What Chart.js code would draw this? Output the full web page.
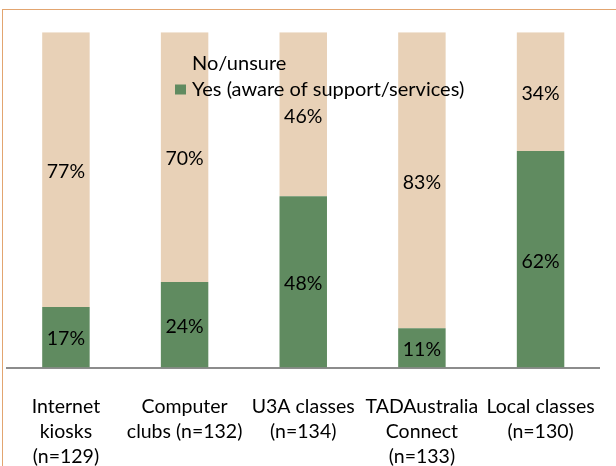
<!DOCTYPE html>
<html>
<head>
<meta charset="utf-8">
<script src="https://cdn.jsdelivr.net/npm/chart.js@4.4.0/dist/chart.umd.min.js"></script>
<style>
html, body { margin: 0; padding: 0; background: #fff; overflow: hidden; }
#wrap { position: relative; width: 616px; height: 466px; overflow: hidden; }
#frame { position: absolute; left: 2px; top: 9px; width: 700px; height: 600px; border: 1.5px solid #e2a570; }
canvas { position: absolute; left: 0; top: 0; }
</style>
</head>
<body>
<div id="wrap">
  <div id="frame"></div>
  <canvas id="chart" width="622" height="466"></canvas>
</div>
<script>
const categories = [
  ['Internet', 'kiosks', '(n=129)'],
  ['Computer', 'clubs (n=132)'],
  ['U3A classes', '(n=134)'],
  ['TADAustralia', 'Connect', '(n=133)'],
  ['Local classes', '(n=130)']
];
const yesValues = [17, 24, 48, 11, 62];
const noValues = [77, 70, 46, 83, 34];
const seriesNames = ['Yes (aware of support/services)', 'No/unsure'];
const seriesColors = ['#608b60', '#e8d1b7'];

// bars are drawn as a 100% stack (shares of yes+no), labels show the raw %
const share = (v, i) => v / (yesValues[i] + noValues[i]) * 100;

const FONT = 'Lato';

const barLabels = {
  id: 'barLabels',
  afterDatasetsDraw(chart) {
    const ctx = chart.ctx;
    ctx.save();
    ctx.font = '19.5px ' + FONT;
    ctx.fillStyle = '#000';
    ctx.textAlign = 'center';
    ctx.textBaseline = 'middle';
    chart.data.datasets.forEach((ds, di) => {
      chart.getDatasetMeta(di).data.forEach((bar, i) => {
        ctx.fillText(ds.values[i] + '%', bar.x, (bar.y + bar.base) / 2 + 2);
      });
    });
    ctx.restore();
  }
};

// legend sits inside the plot, No/unsure listed first
const inlineLegend = {
  id: 'inlineLegend',
  afterDraw(chart) {
    const ctx = chart.ctx;
    ctx.save();
    ctx.font = '20px ' + FONT;
    ctx.textBaseline = 'middle';
    const items = chart.data.datasets.slice().reverse();
    items.forEach((ds, k) => {
      const y = 63.5 + k * 26;
      ctx.fillStyle = ds.backgroundColor;
      ctx.fillRect(175, y - 5, 11, 10);
      ctx.fillStyle = '#000';
      ctx.fillText(ds.label, 192, y);
    });
    ctx.restore();
  }
};

new Chart(document.getElementById('chart'), {
  type: 'bar',
  data: {
    labels: categories,
    datasets: [
      {
        label: seriesNames[0],
        data: yesValues.map(share),
        values: yesValues,
        backgroundColor: seriesColors[0]
      },
      {
        label: seriesNames[1],
        data: noValues.map(share),
        values: noValues,
        backgroundColor: seriesColors[1]
      }
    ]
  },
  options: {
    responsive: false,
    animation: false,
    categoryPercentage: 1,
    barPercentage: 0.4,
    layout: { padding: { left: 6.6, top: 32.3, right: 3.4, bottom: 0 } },
    plugins: {
      legend: { display: false },
      tooltip: { enabled: false }
    },
    scales: {
      x: {
        stacked: true,
        grid: { display: false, drawTicks: false },
        border: { display: true, color: '#8c8c8c', width: 2 },
        ticks: {
          color: '#000',
          font: { family: FONT, size: 19.5, lineHeight: 1.28 },
          padding: 27,
          maxRotation: 0,
          autoSkip: false
        },
        afterFit: s => { s.height = 466 - 367.5; }
      },
      y: { stacked: true, display: false, min: 0, max: 100 }
    }
  },
  plugins: [barLabels, inlineLegend]
});
</script>
</body>
</html>
